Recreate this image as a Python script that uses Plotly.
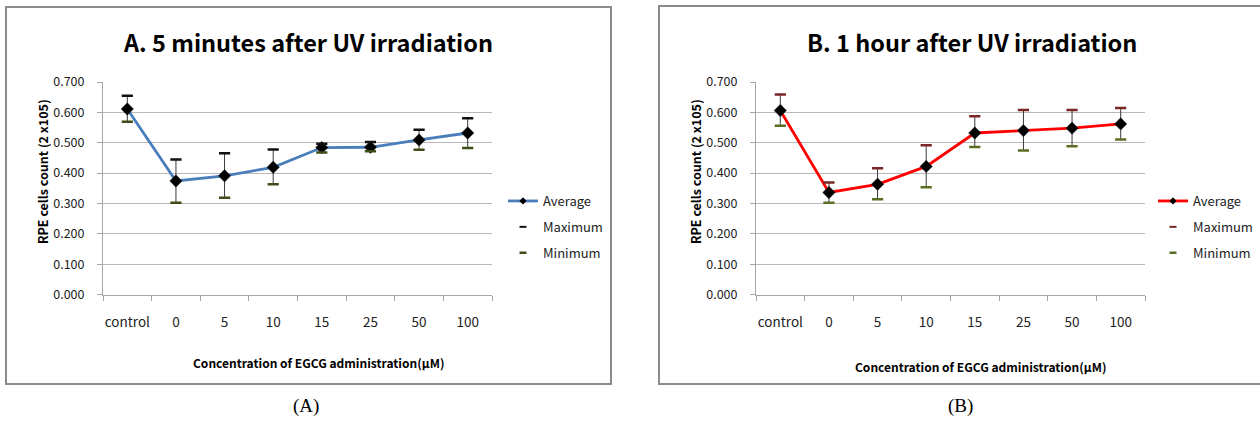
import plotly.graph_objects as go

W, H = 1260, 421

categories = ["control", "0", "5", "10", "15", "25", "50", "100"]

a_avg = [0.611, 0.374, 0.391, 0.419, 0.484, 0.485, 0.509, 0.532]
a_max = [0.655, 0.445, 0.465, 0.478, 0.497, 0.502, 0.543, 0.581]
a_min = [0.569, 0.302, 0.319, 0.363, 0.468, 0.472, 0.477, 0.483]

b_avg = [0.606, 0.336, 0.363, 0.422, 0.532, 0.540, 0.548, 0.562]
b_max = [0.659, 0.369, 0.416, 0.492, 0.587, 0.608, 0.608, 0.614]
b_min = [0.556, 0.302, 0.314, 0.353, 0.486, 0.474, 0.488, 0.511]

y_ticks = [0.0, 0.1, 0.2, 0.3, 0.4, 0.5, 0.6, 0.7]

FONT = "Noto Sans CJK KR"


def px(x):
    return x / W


def py(y):
    return 1 - y / H


fig = go.Figure()


def add_panel(avg, mx, mn, xa, ya, line_color, max_color, min_color, legend):
    up = [m - a for m, a in zip(mx, avg)]
    down = [a - m for a, m in zip(avg, mn)]
    fig.add_trace(go.Scatter(
        x=categories, y=avg, name="Average", mode="lines+markers",
        xaxis=xa, yaxis=ya, showlegend=False,
        line=dict(color=line_color, width=2.8),
        marker=dict(symbol="diamond", size=9.5, color="#000000",
                    line=dict(color="#1a1a2a", width=0.5)),
        error_y=dict(type="data", symmetric=False, array=up, arrayminus=down,
                     color="#3a3a3a", thickness=1, width=0),
    ))
    fig.add_trace(go.Scatter(
        x=categories, y=mx, name="Maximum", mode="markers",
        xaxis=xa, yaxis=ya, showlegend=False,
        marker=dict(symbol="line-ew", size=8, line=dict(color=max_color, width=2.5)),
    ))
    fig.add_trace(go.Scatter(
        x=categories, y=mn, name="Minimum", mode="markers",
        xaxis=xa, yaxis=ya, showlegend=False,
        marker=dict(symbol="line-ew", size=8, line=dict(color=min_color, width=2.5)),
    ))
    # legend entries (no data points, legend only)
    fig.add_trace(go.Scatter(
        x=[None], y=[None], name="Average", mode="lines+markers",
        xaxis=xa, yaxis=ya, legend=legend, legendgroup=legend + "a",
        line=dict(color=line_color, width=2.8),
        marker=dict(symbol="diamond", size=5.5, color="#000000"),
    ))
    fig.add_trace(go.Scatter(
        x=[None], y=[None], name="Maximum", mode="markers",
        xaxis=xa, yaxis=ya, legend=legend, legendgroup=legend + "b",
        marker=dict(symbol="line-ew", size=5, line=dict(color=max_color, width=2)),
    ))
    fig.add_trace(go.Scatter(
        x=[None], y=[None], name="Minimum", mode="markers",
        xaxis=xa, yaxis=ya, legend=legend, legendgroup=legend + "c",
        marker=dict(symbol="line-ew", size=5, line=dict(color=min_color, width=2.5)),
    ))


add_panel(a_avg, a_max, a_min, "x", "y", "#4A7EBB", "#111111", "#3f4d18", "legend")
add_panel(b_avg, b_max, b_min, "x2", "y2", "#FF0000", "#7a2424", "#5a6e22", "legend2")

xax = dict(type="category", range=[-0.5, 7.5], tickson="boundaries", ticks="outside",
           ticklen=5, tickcolor="#a6a6a6", showline=True, linecolor="#a6a6a6", linewidth=1,
           showgrid=False, zeroline=False, ticklabelstandoff=15, tickangle=0,
           automargin=False,
           tickfont=dict(family=FONT, size=13.5, color="#222222"))
yax = dict(range=[0, 0.7], tickvals=y_ticks, tickformat=".3f", ticks="outside", ticklen=5,
           tickcolor="#a6a6a6", showline=True, linecolor="#a6a6a6", linewidth=1,
           showgrid=True, gridcolor="#b8b8b8", gridwidth=1, zeroline=False,
           automargin=False,
           ticklabelstandoff=10, tickfont=dict(family=FONT, size=12.5, color="#222222"))

y_dom = [py(294.5), py(82)]

legend_style = dict(font=dict(family=FONT, size=13, color="#222222"), bgcolor="rgba(0,0,0,0)",
                    tracegroupgap=6, itemwidth=30, xanchor="left", yanchor="top",
                    borderwidth=0)

fig.update_layout(
    template="none",
    width=W, height=H, margin=dict(l=0, r=0, t=0, b=0, autoexpand=False),
    paper_bgcolor="white", plot_bgcolor="white",
    xaxis=dict(xax, domain=[px(103), px(492)], anchor="y"),
    yaxis=dict(yax, domain=y_dom, anchor="x"),
    xaxis2=dict(xax, domain=[px(756), px(1145)], anchor="y2"),
    yaxis2=dict(yax, domain=y_dom, anchor="x2"),
    legend=dict(legend_style, x=px(503), y=py(186)),
    legend2=dict(legend_style, x=px(1153), y=py(186)),
    showlegend=True,
)

# frames
fig.add_shape(type="rect", xref="paper", yref="paper", x0=px(6), x1=px(611), y0=py(384), y1=py(7),
              line=dict(color="#8c8c8c", width=2), layer="below")
fig.add_shape(type="rect", xref="paper", yref="paper", x0=px(659), x1=px(1264), y0=py(384), y1=py(6),
              line=dict(color="#8c8c8c", width=2), layer="below")

ann = []
ann.append(dict(text="<b>A. 5 minutes after UV irradiation</b>", x=px(308), y=py(42),
                font=dict(family=FONT, size=23.5, color="#000000")))
ann.append(dict(text="<b>B. 1 hour after UV irradiation</b>", x=px(972), y=py(42),
                font=dict(family=FONT, size=23.5, color="#000000")))
ann.append(dict(text="<b>RPE cells count (2 x105)</b>", x=px(42), y=py(172), textangle=-90,
                font=dict(family=FONT, size=12.5, color="#000000")))
ann.append(dict(text="<b>RPE cells count (2 x105)</b>", x=px(695), y=py(172), textangle=-90,
                font=dict(family=FONT, size=12.5, color="#000000")))
ann.append(dict(text="<b>Concentration of EGCG administration(μM)</b>", x=px(318), y=py(362),
                font=dict(family=FONT, size=12, color="#000000")))
ann.append(dict(text="<b>Concentration of EGCG administration(μM)</b>", x=px(980), y=py(366),
                font=dict(family=FONT, size=12, color="#000000")))
ann.append(dict(text="(A)", x=px(306), y=py(406),
                font=dict(family="Liberation Serif", size=19, color="#000000")))
ann.append(dict(text="(B)", x=px(960), y=py(406),
                font=dict(family="Liberation Serif", size=19, color="#000000")))
for a in ann:
    fig.add_annotation(dict(a, xref="paper", yref="paper", showarrow=False,
                            xanchor="center", yanchor="middle"))

fig.write_html("out.html", config={"displayModeBar": False},
               post_script="document.body.style.margin='0px';")
